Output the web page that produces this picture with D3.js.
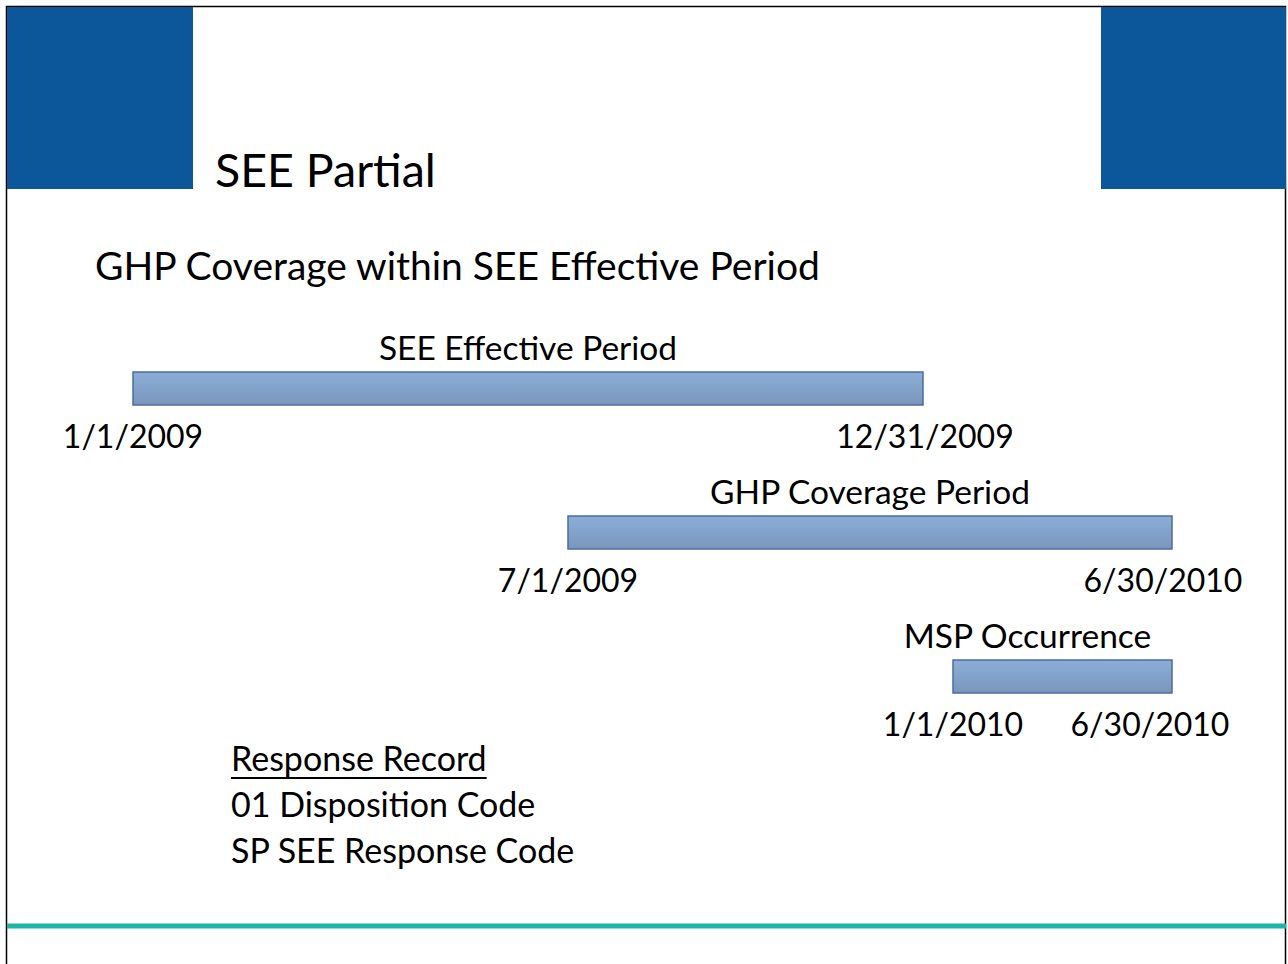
<!DOCTYPE html>
<html>
<head>
<meta charset="utf-8">
<script src="https://cdn.jsdelivr.net/npm/d3@7"></script>
<style>
  html, body { margin: 0; padding: 0; background: #fff; }
  svg { display: block; }
  text { font-family: Lato, "Open Sans", sans-serif; fill: #000; }
</style>
</head>
<body>
<div id="slide"></div>
<script>
// periods shown on the timeline
const periods = ['SEE Effective Period', 'GHP Coverage Period', 'MSP Occurrence']
const startDates = ['2009-01-01', '2009-07-01', '2010-01-01']
const endDates = ['2009-12-31', '2010-06-30', '2010-06-30']
const startLabels = ['1/1/2009', '7/1/2009', '1/1/2010']
const endLabels = ['12/31/2009', '6/30/2010', '6/30/2010']
const responseLines = ['Response Record', '01 Disposition Code', 'SP SEE Response Code']
const slideTitle = 'SEE Partial'
const subTitle = 'GHP Coverage within SEE Effective Period'

const width = 1288
const height = 964
const parse = d3.timeParse('%Y-%m-%d')

const svg = d3.select('#slide').append('svg')
    .attr('width', width).attr('height', height)

// slide frame + blue corner blocks
svg.append('rect').attr('x', 6.5).attr('y', 6.5).attr('width', 1279).attr('height', 970)
    .attr('fill', 'none').attr('stroke', '#000').attr('stroke-width', 1.5)
svg.append('rect').attr('x', 7).attr('y', 7).attr('width', 186).attr('height', 182).attr('fill', '#0B579A')
svg.append('rect').attr('x', 1101).attr('y', 7).attr('width', 185).attr('height', 182).attr('fill', '#0B579A')
svg.append('rect').attr('x', 7).attr('y', 923.5).attr('width', 1279).attr('height', 5).attr('fill', '#1CB5A9')

svg.append('text').attr('x', 215).attr('y', 187)
    .style('font-size', '46.5px').text(slideTitle)
svg.append('text').attr('x', 95).attr('y', 280)
    .style('font-size', '39px').text(subTitle)

// the diagram is not drawn to scale, so use a piecewise time scale
const allDates = Array.from(new Set(startDates.concat(endDates))).sort().map(parse)
const x = d3.scaleTime()
    .domain(allDates)
    .range([133, 568, 923, 953, 1172])
const y = d3.scalePoint().domain(periods).range([372, 660])
const barH = 33

const defs = svg.append('defs')
const grad = defs.append('linearGradient').attr('id', 'barFill')
    .attr('x1', 0).attr('y1', 0).attr('x2', 0).attr('y2', 1)
grad.append('stop').attr('offset', '0%').attr('stop-color', '#8BAED8')
grad.append('stop').attr('offset', '100%').attr('stop-color', '#7A96BC')

const rows = periods.map((p, i) => ({
    name: p,
    start: parse(startDates[i]),
    end: parse(endDates[i]),
    startLabel: startLabels[i],
    endLabel: endLabels[i]
}))

// small nudges of labels as placed on the slide
const titleShift = [0, 0, -35]
const endShift = [2, -9, -22]

const g = svg.selectAll('g.period').data(rows).enter().append('g').attr('class', 'period')

g.append('rect')
    .attr('x', d => x(d.start))
    .attr('y', d => y(d.name))
    .attr('width', d => x(d.end) - x(d.start))
    .attr('height', barH)
    .attr('fill', 'url(#barFill)')
    .attr('stroke', '#4D6C9C')
    .attr('stroke-width', 1.5)

g.append('text')
    .attr('x', (d, i) => (x(d.start) + x(d.end)) / 2 + titleShift[i])
    .attr('y', d => y(d.name) - 12)
    .attr('text-anchor', 'middle')
    .style('font-size', '33.5px')
    .text(d => d.name)

g.append('text')
    .attr('x', d => x(d.start))
    .attr('y', d => y(d.name) + barH + 43)
    .attr('text-anchor', 'middle')
    .style('font-size', '32px')
    .text(d => d.startLabel)

g.append('text')
    .attr('x', (d, i) => x(d.end) + endShift[i])
    .attr('y', d => y(d.name) + barH + 43)
    .attr('text-anchor', 'middle')
    .style('font-size', '32px')
    .text(d => d.endLabel)

// response record block
const resp = svg.selectAll('text.resp').data(responseLines).enter().append('text')
    .attr('class', 'resp')
    .attr('x', 231)
    .attr('y', (d, i) => 771 + i * 46)
    .style('font-size', '34px')
    .text(d => d)

const headW = resp.node().getComputedTextLength()
svg.append('line').attr('x1', 231).attr('x2', 231 + headW)
    .attr('y1', 778).attr('y2', 778)
    .attr('stroke', '#000').attr('stroke-width', 2)
</script>
</body>
</html>
